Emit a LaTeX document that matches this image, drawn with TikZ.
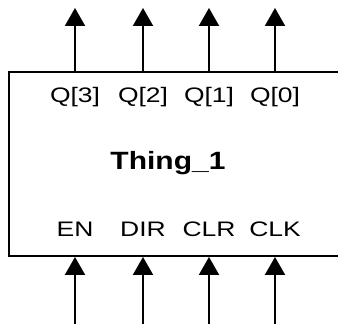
\documentclass[tikz,border=0pt]{standalone}
\usepackage{fontspec}
\setmainfont{Liberation Sans}
\newfontfamily\pinfont[FakeStretch=1.26]{Liberation Sans}
\newfontfamily\namefont[FakeStretch=1.2]{Liberation Sans}
\usetikzlibrary{arrows.meta}
\tikzset{
  >={Triangle[length=18pt,width=20pt]},
  blk/.style={draw,line width=2pt,minimum width=340pt,minimum height=184pt,inner sep=0pt},
  pin/.style={inner sep=0pt,font=\pinfont\fontsize{21}{23}\selectfont},
  sig/.style={line width=2pt},
}
\begin{document}
\begin{tikzpicture}[x=1pt,y=1pt]
\useasboundingbox (0,0) rectangle (338,324);
\clip (0,0) rectangle (338,324);
\node[blk] (thing) at (178.5,160){};
\node[font=\namefont\bfseries\fontsize{25}{27}\selectfont] (name) at (168,161){Thing\_1};
% outputs along the top
\node[pin] (q3) at (75,227){Q[3]}; \node[pin] (q2) at (143,227){Q[2]};
\node[pin] (q1) at (209,227){Q[1]}; \node[pin] (q0) at (275,227){Q[0]};
% inputs along the bottom
\node[pin] (en) at (75,95){EN}; \node[pin] (dir) at (143,95){DIR};
\node[pin] (clr) at (209,95){CLR}; \node[pin] (clk) at (275,95){CLK};
\foreach \p in {q3,q2,q1,q0}{
  \coordinate (o\p) at ([yshift=63pt]\p |- thing.north);
  \draw[sig,->] (\p |- thing.north) -- (o\p);
}
\foreach \p in {en,dir,clr,clk}{
  \coordinate (i\p) at (\p |- 0,0);
  \draw[sig,->] (i\p) -- (\p |- thing.south);
}
\end{tikzpicture}
\end{document}
